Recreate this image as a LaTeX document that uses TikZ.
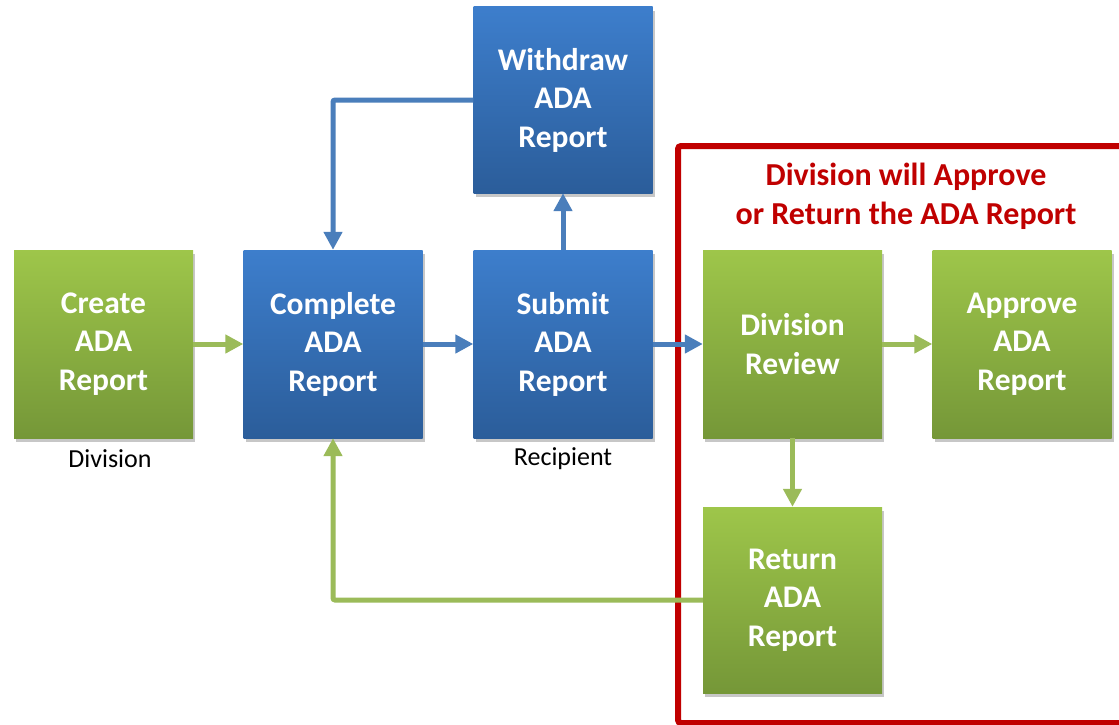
\documentclass[tikz,border=0pt]{standalone}
\usepackage{fontspec}
\setmainfont{Carlito}
\usetikzlibrary{arrows.meta,shadows}
\definecolor{gtop}{RGB}{158,198,74}
\definecolor{gbot}{RGB}{117,151,56}
\definecolor{btop}{RGB}{61,126,204}
\definecolor{bbot}{RGB}{43,93,154}
\definecolor{garrow}{RGB}{155,187,89}
\definecolor{barrow}{RGB}{74,126,187}
\definecolor{redframe}{RGB}{192,0,0}
\tikzset{
  box/.style={minimum width=179pt, minimum height=188pt, inner sep=0pt, align=center,
    text=white, font=\fontsize{31.5}{38.5}\selectfont\bfseries,
    drop shadow={shadow xshift=2pt, shadow yshift=-4pt, opacity=0.22, fill=black}},
  gbox/.style={box, top color=gtop, bottom color=gbot},
  bbox/.style={box, top color=btop, bottom color=bbot},
  garr/.style={draw=garrow, line width=5pt, -{Triangle[length=18pt,width=18pt]}},
  barr/.style={draw=barrow, line width=5pt, -{Triangle[length=18pt,width=18pt]}},
  lbl/.style={font=\fontsize{26}{30}\selectfont, text=black, inner sep=0pt},
  ttl/.style={font=\fontsize{32}{39}\selectfont\bfseries, text=redframe, align=center, inner sep=0pt}
}
\begin{document}
\begin{tikzpicture}[x=1pt,y=-1pt]
\useasboundingbox (0,0) rectangle (1119,725);
\fill[white] (0,0) rectangle (1119,725);
\draw[redframe, line width=6pt, rounded corners=3pt] (678,146) rectangle (1130,723);
\node[ttl] (title) at (906,196) {Division will Approve\\or Return the ADA Report};

\node[gbox] (create) at (103.5,344) {Create\\ADA\\Report};
\node[bbox] (complete) at (333,344) {Complete\\ADA\\Report};
\node[bbox] (submit) at (563,344) {Submit\\ADA\\Report};
\node[bbox, minimum height=186pt] (withdraw) at (563,100) {Withdraw\\ADA\\Report};
\node[gbox] (review) at (792.5,344) {Division\\Review};
\node[gbox] (approve) at (1022,344) {Approve\\ADA\\Report};
\node[gbox, minimum height=186pt] (return) at (792.5,600) {Return\\ADA\\Report};

\node[lbl] (ldiv) at (110,459) {Division};
\node[lbl] (lrec) at (563,459) {Recipient};

\coordinate (c1) at (333,100);
\coordinate (c2) at (333,600);

\draw[garr] (create.east) -- (complete.west);
\draw[barr] (complete.east) -- (submit.west);
\draw[barr] (submit.east) -- (review.west);
\draw[barr] (submit.north) -- (withdraw.south);
\draw[garr] (review.east) -- (approve.west);
\draw[garr] (review.south) -- (return.north);
\draw[barr, rounded corners=2pt] (withdraw.west) -- (c1) -- (complete.north);
\draw[garr, rounded corners=2pt] (return.west) -- (c2) -- (complete.south);
\end{tikzpicture}
\end{document}
